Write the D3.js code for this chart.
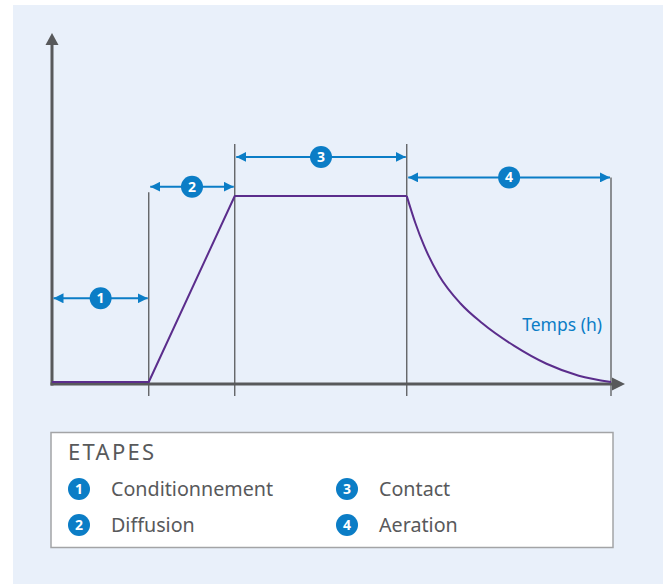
<!DOCTYPE html>
<html>
<head>
<meta charset="utf-8">
<script src="https://cdn.jsdelivr.net/npm/d3@7"></script>
<style>
html,body{margin:0;padding:0;background:#fff;}
svg{display:block;}
</style>
</head>
<body>
<svg id="chart" width="663" height="584"></svg>
<script>
// ---- data ----
const phaseIds = [1, 2, 3, 4];
const phaseNames = ["Conditionnement", "Diffusion", "Contact", "Aeration"];
const phaseBounds = [0, 2.25, 4.25, 8.25, 13];          // time (h) at phase boundaries
const phaseArrowLevel = [0.45, 1.05, 1.21, 1.10];       // level of each phase's span arrow
const boundaryTopLevel = [1.02, 1.28, 1.28, 1.10];      // top level of boundary lines (at bounds 1..4)
const rampTimes = [0, 2.25, 4.25, 8.25];
const rampValues = [0, 0, 1, 1];
const decayTimes = [8.25, 8.45, 8.65, 9, 9.5, 10, 10.75, 11.5, 12.25, 13];
const decayValues = [1, 0.855, 0.734, 0.573, 0.422, 0.317, 0.194, 0.098, 0.034, 0];
const xAxisLabel = "Temps (h)";
const legendTitle = "ETAPES";

// ---- styles ----
const BLUE = "#0b7dc6", PURPLE = "#5b2d8c", GREY = "#58595b", BG = "#e9f0fa";
const FONT = "'Noto Sans', 'Open Sans', sans-serif";

const svg = d3.select("#chart");
svg.append("rect").attr("x", 13).attr("y", 5).attr("width", 650).attr("height", 579).attr("fill", BG);

const x = d3.scaleLinear().domain([0, 13]).range([52, 611]);
const y = d3.scaleLinear().domain([0, 1]).range([382, 196]);

const defs = svg.append("defs");
defs.append("marker").attr("id", "bArrow").attr("viewBox", "0 0 10 10")
  .attr("refX", 10).attr("refY", 5).attr("markerWidth", 10).attr("markerHeight", 10)
  .attr("markerUnits", "userSpaceOnUse").attr("orient", "auto-start-reverse")
  .append("path").attr("d", "M0,0L10,5L0,10z").attr("fill", BLUE);

// boundary lines
const g = svg.append("g");
phaseBounds.slice(1).forEach((b, i) => {
  g.append("line").attr("x1", x(b)).attr("x2", x(b))
    .attr("y1", y(boundaryTopLevel[i])).attr("y2", 396)
    .attr("stroke", GREY).attr("stroke-width", 1.3);
});

// axes
const axisY0 = 384;
g.append("line").attr("x1", x(0)).attr("x2", x(0)).attr("y1", 44).attr("y2", axisY0 + 1.5)
  .attr("stroke", GREY).attr("stroke-width", 3);
g.append("path").attr("d", `M${x(0)-6.5},45L${x(0)},33L${x(0)+6.5},45Z`).attr("fill", GREY);
g.append("line").attr("x1", x(0) - 1.5).attr("x2", 613).attr("y1", axisY0).attr("y2", axisY0)
  .attr("stroke", GREY).attr("stroke-width", 3);
g.append("path").attr("d", `M612,${axisY0-6.5}L625,${axisY0}L612,${axisY0+6.5}Z`).attr("fill", GREY);

// curve: linear ramp + smooth decay
const ramp = d3.line().x((d, i) => x(rampTimes[i])).y(d => y(d));
g.append("path").datum(rampValues).attr("d", ramp)
  .attr("fill", "none").attr("stroke", PURPLE).attr("stroke-width", 2).attr("stroke-linejoin", "round");
const decay = d3.line().x((d, i) => x(decayTimes[i])).y(d => y(d)).curve(d3.curveMonotoneX);
g.append("path").datum(decayValues).attr("d", decay)
  .attr("fill", "none").attr("stroke", PURPLE).attr("stroke-width", 2);

// axis label
g.append("text").attr("x", 602).attr("y", 331).attr("text-anchor", "end")
  .attr("font-family", FONT).attr("font-size", 17.5).attr("fill", BLUE).text(xAxisLabel);

// span arrows with numbered circles
phaseIds.forEach((id, i) => {
  const x0 = x(phaseBounds[i]) + 1.5, x1 = x(phaseBounds[i + 1]) - 1;
  const yy = y(phaseArrowLevel[i]);
  g.append("line").attr("x1", x0).attr("x2", x1).attr("y1", yy).attr("y2", yy)
    .attr("stroke", BLUE).attr("stroke-width", 2)
    .attr("marker-start", "url(#bArrow)").attr("marker-end", "url(#bArrow)");
  const cx = (x0 + x1) / 2;
  g.append("circle").attr("cx", cx).attr("cy", yy).attr("r", 11).attr("fill", BLUE);
  g.append("text").attr("x", cx).attr("y", yy).attr("dy", "0.36em").attr("text-anchor", "middle")
    .attr("font-family", FONT).attr("font-weight", "bold").attr("font-size", 14).attr("fill", "#fff").text(id);
});

// legend
const lg = svg.append("g");
lg.append("rect").attr("x", 51).attr("y", 432.5).attr("width", 562).attr("height", 115)
  .attr("fill", "#fff").attr("stroke", "#a3a4a6").attr("stroke-width", 1.5);
lg.append("text").attr("x", 68).attr("y", 460).attr("font-family", FONT).attr("font-size", 22)
  .attr("letter-spacing", 2.3).attr("fill", GREY).text(legendTitle);
phaseIds.forEach((id, i) => {
  const col = Math.floor(i / 2), row = i % 2;
  const cx = col === 0 ? 79 : 347, cy = 489 + row * 36;
  lg.append("circle").attr("cx", cx).attr("cy", cy).attr("r", 11).attr("fill", BLUE);
  lg.append("text").attr("x", cx).attr("y", cy).attr("dy", "0.36em").attr("text-anchor", "middle")
    .attr("font-family", FONT).attr("font-weight", "bold").attr("font-size", 14).attr("fill", "#fff").text(id);
  lg.append("text").attr("x", cx + 32).attr("y", cy + 6.5).attr("font-family", FONT)
    .attr("font-size", 19.7).attr("fill", GREY).text(phaseNames[i]);
});
</script>
</body>
</html>
